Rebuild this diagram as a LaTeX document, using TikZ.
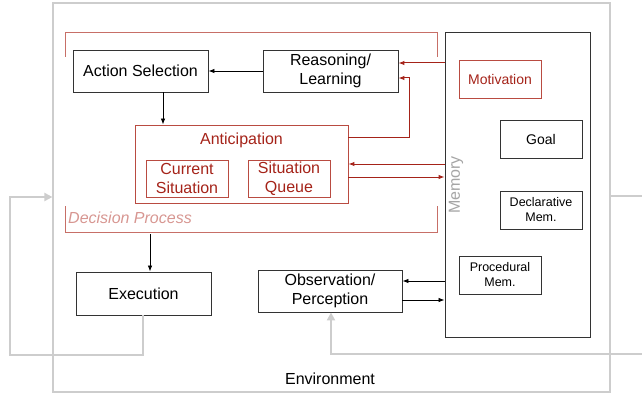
\documentclass[tikz,border=0pt]{standalone}
\usepackage{fontspec}
\setmainfont{Liberation Sans}
\usetikzlibrary{arrows.meta}
\definecolor{dred}{RGB}{165,35,25}
\definecolor{bred}{RGB}{185,75,65}
\definecolor{lred}{RGB}{215,150,145}
\definecolor{envgray}{RGB}{205,205,205}
\definecolor{memgray}{RGB}{165,165,165}
\tikzset{
  box/.style={draw=black!80, line width=0.9pt, fill=white, inner sep=0pt, align=center, font=\fontsize{16}{19.5}\selectfont},
  rbox/.style={draw=bred, line width=0.9pt, fill=white, inner sep=0pt, align=center, text=dred, font=\fontsize{16}{19}\selectfont},
  sbox/.style={box, font=\fontsize{12.5}{15}\selectfont},
  arr/.style={line width=0.8pt, -{Latex[length=6pt,width=4.5pt]}},
  rarr/.style={draw=dred, line width=1pt, -{Latex[length=6pt,width=4.5pt]}},
  garr/.style={draw=envgray, line width=2pt, -{Triangle[length=8pt,width=8pt]}},
  bracket/.style={draw=bred!80, line width=0.9pt},
}
\begin{document}
\begin{tikzpicture}[x=1pt,y=-1pt]
\useasboundingbox (0,0) rectangle (642,393);
% environment
\node[draw=envgray, line width=1.2pt, minimum width=557, minimum height=389, inner sep=0pt] (env) at (331.5,197.5) {};
\node[font=\fontsize{16}{19}\selectfont] (envlbl) at (330,379) {Environment};
% decision process bracket
\draw[bracket] (65,57) -- (65,32) -- (437,32) -- (437,57);
\draw[bracket] (65,206) -- (65,232) -- (437,232) -- (437,206);
\node[anchor=west, text=lred, font=\fontsize{16}{19}\selectfont\itshape, inner sep=0pt] (dp) at (68,218) {Decision Process};
\coordinate (dpb) at (150,234);
% boxes
\node[box, minimum width=135, minimum height=42] (act) at (140.5,71) {Action Selection};
\node[box, minimum width=135, minimum height=42] (reas) at (330.5,71) {Reasoning/\\Learning};
\node[rbox, minimum width=213, minimum height=78] (anti) at (241.5,164) {};
\node[text=dred, font=\fontsize{16}{19}\selectfont] (antilbl) at (241.5,140) {Anticipation};
\node[rbox, minimum width=82, minimum height=37] (cur) at (187,178.5) {Current\\Situation};
\node[rbox, minimum width=82, minimum height=37] (que) at (289,178.5) {Situation\\Queue};
\node[box, minimum width=145, minimum height=305] (mem) at (517.5,184.5) {};
\node[text=memgray, rotate=90, font=\fontsize{16}{19}\selectfont] (memlbl) at (456,185) {Memory};
\node[rbox, minimum width=82, minimum height=38, font=\fontsize{14}{17}\selectfont] (mot) at (500,79) {Motivation};
\node[box, minimum width=82, minimum height=38, font=\fontsize{14}{17}\selectfont] (goal) at (541,139) {Goal};
\node[sbox, minimum width=82, minimum height=38] (decl) at (541,210) {Declarative\\Mem.};
\node[sbox, minimum width=82, minimum height=38] (proc) at (500,275) {Procedural\\Mem.};
\node[box, minimum width=144, minimum height=42] (obs) at (330,291) {Observation/\\Perception};
\node[box, minimum width=135, minimum height=43] (exe) at (143.5,293.5) {Execution};
% black arrows
\draw[arr] (reas.west) -- (act.east);
\draw[arr] (act.south -| 163,0) -- (anti.north -| 163,0);
\draw[arr] (dpb) -- (exe.north -| dpb);
\draw[arr] (mem.west |- 0,281) -- (obs.east |- 0,281);
\draw[arr] (obs.east |- 0,300) -- (mem.west |- 0,300);
% red arrows
\draw[rarr] (mem.west |- 0,63) -- (reas.east |- 0,63);
\draw[rarr] (anti.east |- 0,137) -- (409,137) -- (409,78) -- (reas.east |- 0,78);
\draw[rarr] (mem.west |- 0,164) -- (anti.east |- 0,164);
\draw[rarr] (anti.east |- 0,177) -- (mem.west |- 0,177);
% gray feedback
\coordinate (rin) at (642,354);
\coordinate (rtop) at (642,196);
\draw[garr] (exe.south -| 143,0) -- (143,355) -- (10,355) -- (10,197) -- (env.west |- 0,197);
\draw[garr] (rin) -- (331,354) -- (obs.south -| 331,0);
\draw[draw=envgray, line width=1.2pt] (env.east |- rtop) -- (rtop);
\end{tikzpicture}
\end{document}
